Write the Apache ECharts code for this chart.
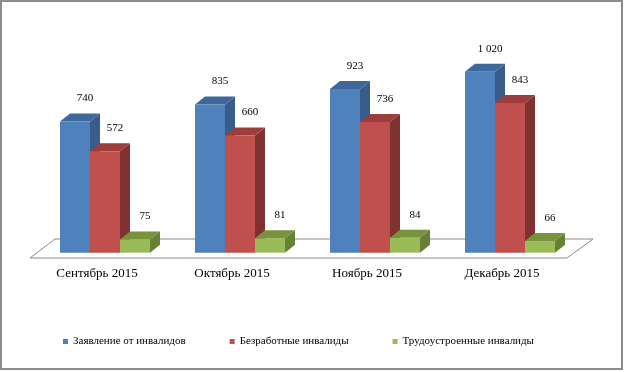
<!DOCTYPE html>
<html>
<head>
<meta charset="utf-8">
<script src="https://cdn.jsdelivr.net/npm/echarts@6/dist/echarts.min.js"></script>
<style>
html,body{margin:0;padding:0;background:#fff;}
#chart{width:624px;height:372px;}
</style>
</head>
<body>
<div id="chart"></div>
<script>
// месяцы
var months = ['Сентябрь 2015', 'Октябрь 2015', 'Ноябрь 2015', 'Декабрь 2015'];
var seriesNames = ['Заявление от инвалидов', 'Безработные инвалиды', 'Трудоустроенные инвалиды'];
var applications = [740, 835, 923, 1020];
var unemployed = [572, 660, 736, 843];
var employed = [75, 81, 84, 66];

// цвета: фронт, верх, бок
var faces = [
	['#4F81BD', '#3E679B', '#385D8A'],
	['#C0504D', '#9C3E3B', '#7F3230'],
	['#9BBB59', '#77933C', '#687F36']
];

var DX = 10, DY = -8;

function fmt(v){
	// 1 020
	return String(v).replace(/\B(?=(\d{3})+(?!\d))/g, ' ');
}

function makeRender(idx){
	return function(params, api){
		var cat = api.value(0);
		var val = api.value(1);
		var top = api.coord([cat, val]);
		var base = api.coord([cat, 0]);
		var band = api.size([1, 0])[0];
		var w = band * 30 / 135;
		var x0 = top[0] + (idx - 1) * w - w / 2;
		var x1 = x0 + w;
		var c = faces[idx];
		return {
			type: 'group',
			children: [
				{
					type: 'polygon',
					shape: {points: [[x1, top[1]], [x1 + DX, top[1] + DY], [x1 + DX, base[1] + DY], [x1, base[1]]]},
					style: {fill: c[2]}
				},
				{
					type: 'polygon',
					shape: {points: [[x0, top[1]], [x0 + DX, top[1] + DY], [x1 + DX, top[1] + DY], [x1, top[1]]]},
					style: {fill: c[1]}
				},
				{
					type: 'rect',
					shape: {x: x0, y: top[1], width: w, height: base[1] - top[1]},
					style: {fill: c[0]}
				},
				{
					type: 'text',
					x: x0 + w / 2 + 10,
					y: top[1] - 23,
					style: {
						text: fmt(val),
						fill: '#000',
						font: '11px "Liberation Serif", serif',
						align: 'center',
						verticalAlign: 'middle'
					}
				}
			]
		};
	};
}

function toData(arr){
	return arr.map(function(v, i){ return [i, v]; });
}

var allData = [applications, unemployed, employed];

var option = {
	animation: false,
	backgroundColor: '#fff',
	grid: {left: 37.5, right: 46.5, top: 57.5, bottom: 119.3},
	xAxis: {
		type: 'category',
		data: months,
		axisLine: {show: false},
		axisTick: {show: false},
		axisLabel: {
			margin: 14,
			color: '#000',
			fontFamily: 'Liberation Serif',
			fontSize: 13,
			padding: [0, 16, 0, 0]
		}
	},
	yAxis: {
		type: 'value',
		min: 0,
		max: 1100,
		show: false
	},
	legend: {
		left: 58,
		top: 331,
		itemWidth: 5,
		itemHeight: 5,
		itemGap: 44,
		icon: 'rect',
		textStyle: {fontFamily: 'Liberation Serif', fontSize: 11, color: '#000'},
		data: seriesNames
	},
	graphic: [
		{
			type: 'polygon',
			z: 0,
			shape: {points: [[30, 258], [55, 239], [593, 239], [567, 258]]},
			style: {fill: '#fff', stroke: '#8a8a8a', lineWidth: 1}
		},
		{
			type: 'rect',
			z: 100,
			shape: {x: 1, y: 1, width: 621, height: 368},
			style: {fill: 'none', stroke: '#8c8c8c', lineWidth: 2}
		}
	],
	series: seriesNames.map(function(name, i){
		return {
			name: name,
			type: 'custom',
			itemStyle: {color: faces[i][0]},
			renderItem: makeRender(i),
			encode: {x: 0, y: 1},
			data: toData(allData[i])
		};
	})
};

var myEcharts = echarts.init(document.getElementById('chart'));
myEcharts.setOption(option);
</script>
</body>
</html>
